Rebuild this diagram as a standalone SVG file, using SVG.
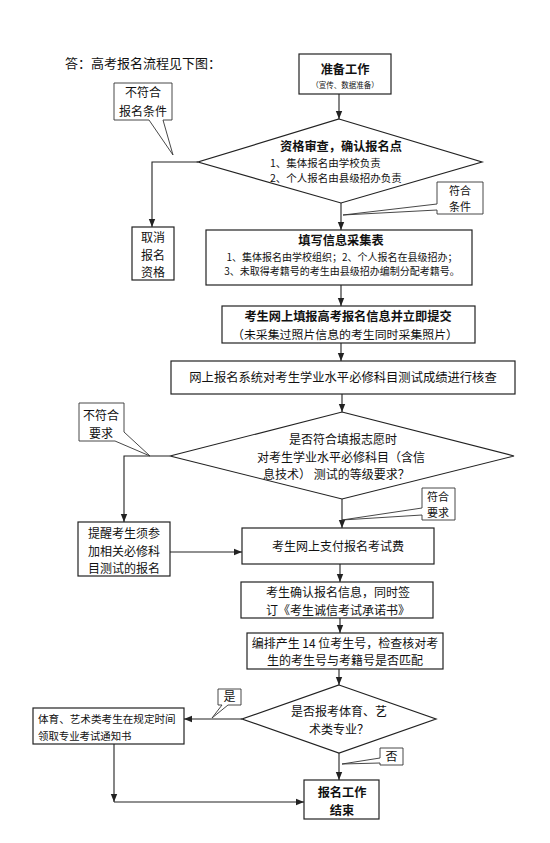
<svg xmlns="http://www.w3.org/2000/svg" width="550" height="843" viewBox="0 0 550 843">
<style>
.b{fill:#fff;stroke:#222;stroke-width:1.2}
.c{fill:#fff;stroke:#333;stroke-width:0.9}
.l{fill:none;stroke:#222;stroke-width:1.1}
text{font-family:"Noto Sans CJK SC","Liberation Sans",sans-serif;fill:#111;text-anchor:middle}
.t{font-size:12px}
.k{font-size:11px}
.bd{font-size:12.2px;font-weight:bold}
.s{font-size:10px}
</style>
<defs>
<marker id="a" viewBox="0 0 10 10" refX="10" refY="5" markerWidth="8" markerHeight="8" markerUnits="userSpaceOnUse" orient="auto"><path d="M0,1 L10,5 L0,9 Z" fill="#222"/></marker>
</defs>
<rect width="550" height="843" fill="#fff"/>
<text x="65" y="68" style="font-size:13px;text-anchor:start">答：高考报名流程见下图：</text>

<g id="connectors">
<path class="l" d="M339,94 V119" marker-end="url(#a)"/>
<path class="l" d="M198,162 H152 V227" marker-end="url(#a)"/>
<path class="l" d="M341,203 V230" marker-end="url(#a)"/>
<path class="l" d="M341,285 V306" marker-end="url(#a)"/>
<path class="l" d="M341,343 V361" marker-end="url(#a)"/>
<path class="l" d="M342,394 V412" marker-end="url(#a)"/>
<path class="l" d="M170,456 H124 V522" marker-end="url(#a)"/>
<path class="l" d="M342,499 V528" marker-end="url(#a)"/>
<path class="l" d="M170,552 H242" marker-end="url(#a)"/>
<path class="l" d="M340,564 V582" marker-end="url(#a)"/>
<path class="l" d="M340,618 V633" marker-end="url(#a)"/>
<path class="l" d="M339,669 V685" marker-end="url(#a)"/>
<path class="l" d="M242,719 H184" marker-end="url(#a)"/>
<path class="l" d="M339,753 V780" marker-end="url(#a)"/>
<path class="l" d="M114,744 V802" marker-end="url(#a)"/>
<path class="l" d="M114,802 H304" marker-end="url(#a)"/>
</g>

<g id="n-start">
<rect class="b" x="299" y="54" width="92" height="40"/>
<text x="345" y="74"><tspan class="bd">准备工作</tspan><tspan x="345" dy="14" style="font-size:7.5px">（宣传、数据准备）</tspan></text>
</g>

<g id="n-check">
<polygon class="b" points="339,119 482,162 341,203 198,162"/>
<text x="341" y="151"><tspan class="bd">资格审查，确认报名点</tspan><tspan x="270" dy="16" style="font-size:10.5px;text-anchor:start">1、集体报名由学校负责</tspan><tspan x="270" dy="15.3" style="font-size:10.5px;text-anchor:start">2、个人报名由县级招办负责</tspan></text>
</g>

<g id="c-notok1">
<path class="c" d="M114,83 H172 V120 H163 L173,155 L149,120 H114 Z"/>
<text class="t" x="143" y="97">不符合<tspan x="143" dy="19">报名条件</tspan></text>
</g>

<g id="n-cancel">
<rect class="b" x="132" y="227" width="42" height="53"/>
<text class="t" x="153" y="242">取消<tspan x="153" dy="17.5">报名</tspan><tspan x="153" dy="17.5">资格</tspan></text>
</g>

<g id="c-ok1">
<path class="c" d="M437,182 H483 V214 H437 V210 L343,215 L437,204 Z"/>
<text class="k" x="460" y="195">符合<tspan x="460" dy="16">条件</tspan></text>
</g>

<g id="n-form">
<rect class="b" x="206" y="230" width="266" height="55"/>
<text x="341" y="245"><tspan class="bd">填写信息采集表</tspan><tspan class="s" x="342" dy="15.5">1、集体报名由学校组织；2、个人报名在县级招办；</tspan><tspan class="s" x="342" dy="14.8">3、未取得考籍号的考生由县级招办编制分配考籍号。</tspan></text>
</g>

<g id="n-online">
<rect class="b" x="222" y="306" width="253" height="37"/>
<text x="348" y="321"><tspan class="bd">考生网上填报高考报名信息并立即提交</tspan><tspan x="345" dy="17.5" style="font-size:11.9px">（未采集过照片信息的考生同时采集照片）</tspan></text>
</g>

<g id="n-verify">
<rect class="b" x="171" y="361" width="344" height="33"/>
<text x="343" y="382" style="font-size:12.3px">网上报名系统对考生学业水平必修科目测试成绩进行核查</text>
</g>

<g id="n-req">
<polygon class="b" points="342,412 514,456 342,499 170,456"/>
<text class="t" x="343" y="444">是否符合填报志愿时<tspan x="257" dy="17.5" style="text-anchor:start">对考生学业水平必修科目（含信</tspan><tspan x="263" dy="17.5" style="text-anchor:start">息技术） 测试的等级要求？</tspan></text>
</g>

<g id="c-notok2">
<path class="c" d="M79,403 H124 V432 L150,456 L115,441 H79 Z"/>
<text class="t" x="101" y="420">不符合<tspan x="101" dy="17.5">要求</tspan></text>
</g>

<g id="c-ok2">
<path class="c" d="M422,488 H455 V520 H422 V515 L342,520 L422,508 Z"/>
<text class="k" x="438" y="501">符合<tspan x="438" dy="16">要求</tspan></text>
</g>

<g id="n-remind">
<rect class="b" x="78" y="522" width="92" height="54"/>
<text class="t" x="124" y="538">提醒考生须参<tspan x="124" dy="17.5">加相关必修科</tspan><tspan x="124" dy="17.5">目测试的报名</tspan></text>
</g>

<g id="n-pay">
<rect class="b" x="242" y="528" width="192" height="36"/>
<text class="t" x="338" y="551">考生网上支付报名考试费</text>
</g>

<g id="n-confirm">
<rect class="b" x="241" y="582" width="192" height="36"/>
<text class="t" x="338" y="597">考生确认报名信息，同时签<tspan x="338" dy="17.5">订《考生诚信考试承诺书》</tspan></text>
</g>

<g id="n-number">
<rect class="b" x="247" y="633" width="196" height="36"/>
<text class="t" x="345" y="647.5">编排产生 14 位考生号，检查核对考<tspan x="345" dy="17.5">生的考生号与考籍号是否匹配</tspan></text>
</g>

<g id="n-art">
<polygon class="b" points="339,685 436,719 339,753 242,719"/>
<text class="t" x="339" y="716">是否报考体育、艺<tspan x="339" dy="18">术类专业？</tspan></text>
</g>

<g id="c-yes">
<path class="c" d="M218,689 H241 V705 H228 L212,718 L222,705 H218 Z"/>
<text class="t" x="229.5" y="701">是</text>
</g>

<g id="n-notice">
<rect class="b" x="33" y="708" width="151" height="36"/>
<text x="38" y="723" style="font-size:10.6px;text-anchor:start">体育、艺术类考生在规定时间<tspan x="38" dy="17" style="font-size:10.4px">领取专业考试通知书</tspan></text>
</g>

<g id="c-no">
<path class="c" d="M380,748 H403 V765 H380 V763 L342,764 L380,758 Z"/>
<text class="t" x="391.5" y="761">否</text>
</g>

<g id="n-end">
<rect class="b" x="304" y="780" width="75" height="39"/>
<text class="bd" x="342" y="797">报名工作<tspan x="342" dy="17.8">结束</tspan></text>
</g>
</svg>
